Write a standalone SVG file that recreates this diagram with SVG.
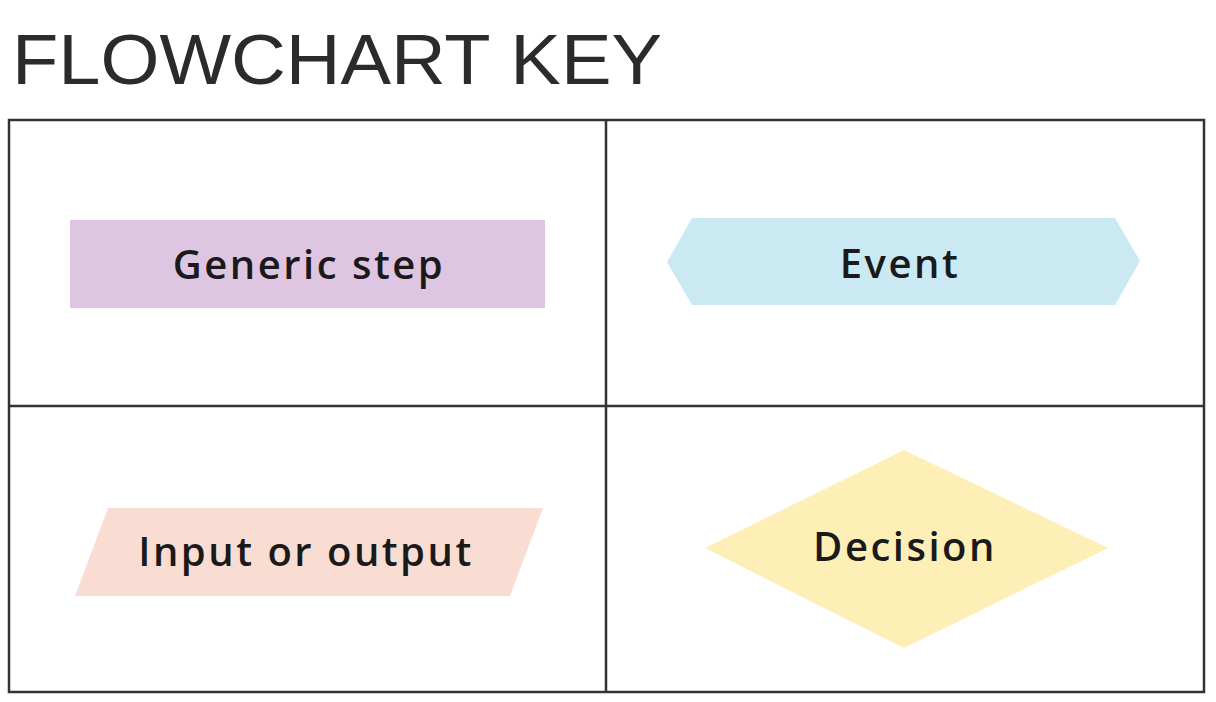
<svg xmlns="http://www.w3.org/2000/svg" width="1216" height="702" viewBox="0 0 1216 702">
<style>
.title{font-family:"Liberation Sans",Arial,sans-serif;font-size:70px;fill:#2b2b2b;}
.lbl{font-family:"Open Sans","Liberation Sans",sans-serif;font-weight:600;font-size:40px;letter-spacing:2.5px;fill:#1a1a1a;text-anchor:middle;}
.grid{fill:none;stroke:#333;stroke-width:2.5;}
</style>
<rect width="1216" height="702" fill="#fff"/>
<text class="title" x="12" y="84" textLength="650" lengthAdjust="spacingAndGlyphs">FLOWCHART KEY</text>
<g id="grid">
<rect class="grid" x="9" y="120" width="1195" height="572"/>
<line class="grid" x1="606" y1="120" x2="606" y2="692"/>
<line class="grid" x1="9" y1="406" x2="1204" y2="406"/>
</g>
<g id="generic-step">
<rect x="70" y="220" width="475" height="88" fill="#dec6e2"/>
<text class="lbl" x="309" y="279">Generic step</text>
</g>
<g id="event">
<polygon points="667,262 692,218 1115,218 1140,261 1115,305 692,305" fill="#cbe9f3"/>
<text class="lbl" x="900" y="278">Event</text>
</g>
<g id="input-output">
<polygon points="108,508 543,508 510,596 75,596" fill="#f9ddd2"/>
<text class="lbl" x="306" y="566">Input or output</text>
</g>
<g id="decision">
<polygon points="904,450 1108,548 904,648 705,548" fill="#fdefb5"/>
<text class="lbl" x="905" y="561">Decision</text>
</g>
<g id="connectors"></g>
</svg>
